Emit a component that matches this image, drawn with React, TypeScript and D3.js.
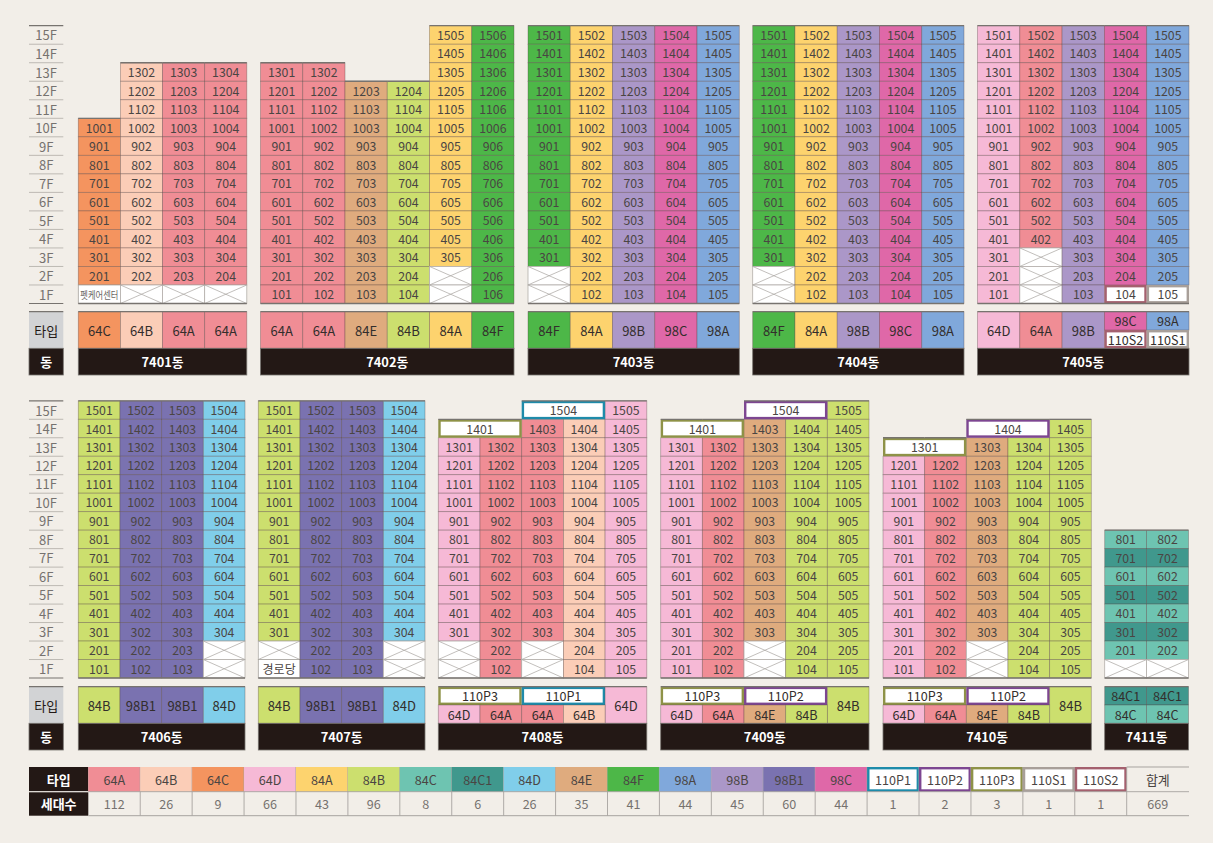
import React from "react";
import * as d3 from "d3";

// ---------- data ----------
const typeNames = ["64A","64B","64C","64D","84A","84B","84C","84C1","84D","84E","84F","98A","98B","98B1","98C","110P1","110P2","110P3","110S1","110S2"];
const typeColors = ["#F08D95","#FBCDB7","#F4945F","#F6B9D6","#FDD36E","#CCDF6E","#6EC4B1","#40988D","#80CEEA","#DFAB7E","#4DB748","#80A8DB","#AB97C8","#7A72B0","#DF68A8","#1E8BAA","#7D4691","#8E9247","#A89F99","#A4606E"];
const typeCounts = [112,26,9,66,43,96,8,6,26,35,41,44,45,60,44,1,2,3,1,1];
const totalLabel = "합계";
const totalCount = 669;
const floorLabels = ["15F","14F","13F","12F","11F","10F","9F","8F","7F","6F","5F","4F","3F","2F","1F"];
const typeHeader = "타입";
const dongHeader = "동";
const countHeader = "세대수";

type Span = [string, number, number];
const VOID = "X";

const dongNames = ["7401동","7402동","7403동","7404동","7405동","7406동","7407동","7408동","7409동","7410동","7411동"];

const floors7401: Span[][] = [
  [["64C",2,10],["펫케어센터",1,1]],
  [["64B",2,13],[VOID,1,1]],
  [["64A",2,13],[VOID,1,1]],
  [["64A",2,13],[VOID,1,1]],
];
const floors7402: Span[][] = [
  [["64A",1,13]],
  [["64A",1,13]],
  [["84E",1,12]],
  [["84B",1,12]],
  [["84A",3,15],[VOID,1,2]],
  [["84F",1,15]],
];
const floors7403: Span[][] = [
  [["84F",3,15],[VOID,1,2]],
  [["84A",1,15]],
  [["98B",1,15]],
  [["98C",1,15]],
  [["98A",1,15]],
];
const floors7404: Span[][] = [
  [["84F",3,15],[VOID,1,2]],
  [["84A",1,15]],
  [["98B",1,15]],
  [["98C",1,15]],
  [["98A",1,15]],
];
const floors7405: Span[][] = [
  [["64D",1,15]],
  [["64A",4,15],[VOID,1,3]],
  [["98B",1,15]],
  [["98C",2,15],["110S2",1,1]],
  [["98A",2,15],["110S1",1,1]],
];
const floors7406: Span[][] = [
  [["84B",1,15]],
  [["98B1",1,15]],
  [["98B1",1,15]],
  [["84D",3,15],[VOID,1,2]],
];
const floors7407: Span[][] = [
  [["84B",3,15],[VOID,2,2],["경로당",1,1]],
  [["98B1",1,15]],
  [["98B1",1,15]],
  [["84D",3,15],[VOID,1,2]],
];
const floors7408: Span[][] = [
  [["64D",3,13],[VOID,1,2]],
  [["64A",1,13]],
  [["64A",3,14],[VOID,1,2]],
  [["64B",1,14]],
  [["64D",1,15]],
];
const floors7409: Span[][] = [
  [["64D",1,13]],
  [["64A",1,13]],
  [["84E",3,14],[VOID,1,2]],
  [["84B",1,14]],
  [["84B",1,15]],
];
const floors7410: Span[][] = [
  [["64D",1,12]],
  [["64A",1,12]],
  [["84E",3,13],[VOID,1,2]],
  [["84B",1,13]],
  [["84B",1,14]],
];
const floors7411: Span[][] = [
  [["84C",8,8],["84C1",7,7],["84C",6,6],["84C1",5,5],["84C",4,4],["84C1",3,3],["84C",2,2],[VOID,1,1]],
  [["84C",8,8],["84C1",7,7],["84C",6,6],["84C1",5,5],["84C",4,4],["84C1",3,3],["84C",2,2],[VOID,1,1]],
];
const dongFloors = [floors7401,floors7402,floors7403,floors7404,floors7405,floors7406,floors7407,floors7408,floors7409,floors7410,floors7411];

// merged penthouse units: dong index, floor, first col, col span, label, type
const mergedUnits: [number, number, number, number, string, string][] = [
  [7,14,0,2,"1401","110P3"],
  [7,15,2,2,"1504","110P1"],
  [8,14,0,2,"1401","110P3"],
  [8,15,2,2,"1504","110P2"],
  [9,13,0,2,"1301","110P3"],
  [9,14,2,2,"1404","110P2"],
];

// type strip: type, first col, col span, level (0 whole, 1 upper, 2 lower)
const stripCells: [string, number, number, number][][] = [
  [["64C",0,1,0],["64B",1,1,0],["64A",2,1,0],["64A",3,1,0]],
  [["64A",0,1,0],["64A",1,1,0],["84E",2,1,0],["84B",3,1,0],["84A",4,1,0],["84F",5,1,0]],
  [["84F",0,1,0],["84A",1,1,0],["98B",2,1,0],["98C",3,1,0],["98A",4,1,0]],
  [["84F",0,1,0],["84A",1,1,0],["98B",2,1,0],["98C",3,1,0],["98A",4,1,0]],
  [["64D",0,1,0],["64A",1,1,0],["98B",2,1,0],["98C",3,1,1],["110S2",3,1,2],["98A",4,1,1],["110S1",4,1,2]],
  [["84B",0,1,0],["98B1",1,1,0],["98B1",2,1,0],["84D",3,1,0]],
  [["84B",0,1,0],["98B1",1,1,0],["98B1",2,1,0],["84D",3,1,0]],
  [["110P3",0,2,1],["110P1",2,2,1],["64D",4,1,0],["64D",0,1,2],["64A",1,1,2],["64A",2,1,2],["64B",3,1,2]],
  [["110P3",0,2,1],["110P2",2,2,1],["84B",4,1,0],["64D",0,1,2],["64A",1,1,2],["84E",2,1,2],["84B",3,1,2]],
  [["110P3",0,2,1],["110P2",2,2,1],["84B",4,1,0],["64D",0,1,2],["64A",1,1,2],["84E",2,1,2],["84B",3,1,2]],
  [["84C1",0,1,1],["84C1",1,1,1],["84C",0,1,2],["84C",1,1,2]],
];

// ---------- layout ----------
const W = 1213, H = 843;
const FONT = "'Noto Sans CJK KR','Noto Sans',sans-serif";
const INK = "#4A4543";
const GRID = "rgba(86,66,66,0.42)";
const EDGE = "#77736F";
const BLACK = "#231815";
const rowsY = [
  { top: 25.7, bottom: 303.5, strip: 311.7, mid: 348.3, end: 375 },
  { top: 400.8, bottom: 678, strip: 686.7, mid: 723.3, end: 750 },
];
const dongX: [number, number, number][] = [
  [78.3,246.8,0],[260.5,514,0],[528,739.3,0],[752.7,964,0],[977.5,1189,0],
  [78.3,245,1],[258.3,425,1],[438.3,646.8,1],[660.7,869,1],[883,1091.3,1],[1104.7,1188.5,1],
];
const LABEL_L = 29, LABEL_R = 63.3;

const colorOf = d3.scaleOrdinal<string, string>().domain(typeNames).range(typeColors);
const isPlain = (t: string) => t.startsWith("110");
const isKnown = (t: string) => typeNames.includes(t);

const Txt = ({ x, y, s, size = 12.3, fill = INK, weight = 400, fit }: any) => (
  <text x={x} y={y} fontSize={size} fill={fill} fontWeight={weight} textAnchor="middle" dominantBaseline="central" fontFamily={FONT}
    {...(fit ? { textLength: fit, lengthAdjust: "spacingAndGlyphs" } : {})}>{s}</text>
);

const Plain = ({ x, y, w, h, t }: any) => (
  <rect x={x + 1.2} y={y + 1.2} width={w - 2.4} height={h - 2.4} fill="#fff" stroke={colorOf(t)} strokeWidth={2.4} />
);

function Cross({ x, y, w, h }: any) {
  return (
    <g>
      <rect x={x} y={y} width={w} height={h} fill="#fff" stroke="#B3AFAB" strokeWidth={0.8} />
      <line x1={x} y1={y} x2={x + w} y2={y + h} stroke="#A7A39F" strokeWidth={0.7} />
      <line x1={x} y1={y + h} x2={x + w} y2={y} stroke="#A7A39F" strokeWidth={0.7} />
    </g>
  );
}

function FloorAxis({ row }: { row: number }) {
  const r = rowsY[row];
  const fy = d3.scaleBand<string>().domain(floorLabels).range([r.top, r.bottom]);
  const h = fy.bandwidth();
  return (
    <g>
      {floorLabels.map((f, i) => (
        <g key={f}>
          {i > 0 && <line x1={LABEL_L} x2={LABEL_R} y1={fy(f)!} y2={fy(f)!} stroke="#BDB9B3" strokeWidth={1} />}
          <Txt x={(LABEL_L + LABEL_R) / 2} y={fy(f)! + h / 2} s={f} size={13} fill="#76726F" />
        </g>
      ))}
      <line x1={LABEL_L} x2={LABEL_R} y1={r.top} y2={r.top} stroke={EDGE} strokeWidth={1.2} />
      <line x1={LABEL_L} x2={LABEL_R} y1={r.bottom} y2={r.bottom} stroke={EDGE} strokeWidth={1.2} />
      <rect x={LABEL_L} y={r.strip} width={LABEL_R - LABEL_L} height={r.mid - r.strip} fill="#D2D3D5" />
      <line x1={LABEL_L} x2={LABEL_R} y1={r.strip} y2={r.strip} stroke={EDGE} strokeWidth={1.2} />
      <Txt x={(LABEL_L + LABEL_R) / 2} y={(r.strip + r.mid) / 2} s={typeHeader} size={13} fill="#231815" weight={400} />
      <rect x={LABEL_L} y={r.mid} width={LABEL_R - LABEL_L} height={r.end - r.mid} fill={BLACK} stroke={EDGE} strokeWidth={0.8} />
      <Txt x={(LABEL_L + LABEL_R) / 2} y={(r.mid + r.end) / 2} s={dongHeader} size={13} fill="#fff" weight={700} />
    </g>
  );
}

function Dong({ index }: { index: number }) {
  const [x0, x1, row] = dongX[index];
  const r = rowsY[row];
  const cols = dongFloors[index];
  const fx = d3.scaleBand<number>().domain(d3.range(cols.length)).range([x0, x1]);
  const fy = d3.scaleBand<string>().domain(floorLabels).range([r.top, r.bottom]);
  const cw = fx.bandwidth();
  const ch = fy.bandwidth();
  const fl = (n: number) => `${n}F`;
  const merged = mergedUnits.filter((m) => m[0] === index);
  const stripMid = (r.strip + r.mid) / 2;

  return (
    <g>
      {/* floors */}
      {cols.map((spans, c) => {
        const cells: React.ReactNode[] = [];
        spans.forEach(([t, lo, hi]) => {
          for (let n = hi; n >= lo; n--) {
            const x = fx(c)!, y = fy(fl(n))!;
            const key = `${c}-${n}`;
            if (t === VOID) {
              cells.push(<Cross key={key} x={x} y={y} w={cw} h={ch} />);
            } else if (!isKnown(t)) {
              cells.push(
                <g key={key}>
                  <rect x={x} y={y} width={cw} height={ch} fill="#fff" stroke="#A7A39F" strokeWidth={0.8} />
                  {t.length > 3
                    ? <Txt x={x + cw / 2} y={y + ch / 2} s={t} size={10.5} fit={38} fill="#6A6663" />
                    : <Txt x={x + cw / 2} y={y + ch / 2} s={t} size={12} />}
                </g>
              );
            } else if (isPlain(t)) {
              cells.push(
                <g key={key}>
                  <Plain x={x} y={y} w={cw} h={ch} t={t} />
                  <Txt x={x + cw / 2} y={y + ch / 2} s={String(n * 100 + c + 1)} />
                </g>
              );
            } else {
              cells.push(
                <g key={key}>
                  <rect x={x} y={y} width={cw} height={ch} fill={colorOf(t)} stroke={GRID} strokeWidth={0.8} />
                  <Txt x={x + cw / 2} y={y + ch / 2} s={String(n * 100 + c + 1)} />
                </g>
              );
            }
          }
        });
        return <g key={c}>{cells}</g>;
      })}
      {/* merged penthouses */}
      {merged.map(([_, n, c, span, label, t]) => {
        const x = fx(c)!, y = fy(fl(n))!, w = cw * span;
        return (
          <g key={label + c}>
            <Plain x={x} y={y} w={w} h={ch} t={t} />
            <Txt x={x + w / 2} y={y + ch / 2} s={label} />
          </g>
        );
      })}
      {/* stepped top + base */}
      {cols.map((spans, c) => {
        const own = Math.max(...spans.map((s) => s[2]));
        const m = merged.filter((u) => c >= u[2] && c < u[2] + u[3]).map((u) => u[1]);
        const top = Math.max(own, ...m);
        const y = fy(fl(top))!;
        return <line key={c} x1={fx(c)!} x2={fx(c)! + cw} y1={y} y2={y} stroke={EDGE} strokeWidth={1.3} />;
      })}
      <line x1={x0} x2={x1} y1={r.bottom} y2={r.bottom} stroke={EDGE} strokeWidth={1.3} />

      {/* type strip */}
      {stripCells[index].map(([t, c, span, level], i) => {
        const x = fx(c)!, w = cw * span;
        const y = level === 2 ? stripMid : r.strip;
        const h = level === 0 ? r.mid - r.strip : stripMid - r.strip;
        return (
          <g key={i}>
            {isPlain(t) ? (
              <Plain x={x} y={y} w={w} h={h} t={t} />
            ) : (
              <rect x={x} y={y} width={w} height={h} fill={colorOf(t)} stroke={GRID} strokeWidth={0.8} />
            )}
            <Txt x={x + w / 2} y={y + h / 2} s={t} size={level === 0 ? 13 : 12.6} fill="#332E2C" />
          </g>
        );
      })}
      <line x1={x0} x2={x1} y1={r.strip} y2={r.strip} stroke={EDGE} strokeWidth={1.3} />
      <rect x={x0} y={r.mid} width={x1 - x0} height={r.end - r.mid} fill={BLACK} stroke={EDGE} strokeWidth={0.8} />
      <Txt x={(x0 + x1) / 2} y={(r.mid + r.end) / 2} s={dongNames[index]} size={12.8} fill="#fff" weight={700} />
    </g>
  );
}

function Legend() {
  const top = 767, mid = 791.7, bottom = 815.7;
  const headR = 88.3, totalL = 1126.7, right = 1189;
  const lx = d3.scaleBand<string>().domain(typeNames).range([headR, totalL]);
  const w = lx.bandwidth();
  return (
    <g>
      <rect x={LABEL_L} y={top} width={headR - LABEL_L} height={mid - top - 0.6} fill={BLACK} />
      <rect x={LABEL_L} y={mid + 0.6} width={headR - LABEL_L} height={bottom - mid - 0.6} fill={BLACK} />
      <Txt x={(LABEL_L + headR) / 2} y={(top + mid) / 2} s={typeHeader} size={13} fill="#fff" weight={700} />
      <Txt x={(LABEL_L + headR) / 2} y={(mid + bottom) / 2} s={countHeader} size={13} fill="#fff" weight={700} />
      {typeNames.map((t, i) => {
        const x = lx(t)!;
        return (
          <g key={t}>
            {isPlain(t) ? (
              <Plain x={x} y={top} w={w} h={mid - top} t={t} />
            ) : (
              <rect x={x} y={top} width={w} height={mid - top} fill={colorOf(t)} />
            )}
            <Txt x={x + w / 2} y={(top + mid) / 2} s={t} size={12.6} />
            <Txt x={x + w / 2} y={(mid + bottom) / 2} s={String(typeCounts[i])} size={12.6} fill="#76726F" />
            <line x1={x + w} x2={x + w} y1={top} y2={bottom} stroke="#A7A39F" strokeWidth={0.9} />
          </g>
        );
      })}
      <Txt x={(totalL + right) / 2} y={(top + mid) / 2} s={totalLabel} size={13} />
      <Txt x={(totalL + right) / 2} y={(mid + bottom) / 2} s={String(totalCount)} size={12.6} fill="#76726F" />
      <line x1={totalL} x2={right} y1={top} y2={top} stroke="#A7A39F" strokeWidth={1} />
      <line x1={headR} x2={right} y1={mid} y2={mid} stroke="#A7A39F" strokeWidth={0.9} />
      <line x1={headR} x2={right} y1={bottom} y2={bottom} stroke="#A7A39F" strokeWidth={1} />
    </g>
  );
}

export default function App() {
  return (
    <svg width={W} height={H} viewBox={`0 0 ${W} ${H}`} style={{ position: "absolute", left: 0, top: 0, background: "#F2EEE8", display: "block" }}>
      <rect width={W} height={H} fill="#F2EEE8" />
      <FloorAxis row={0} />
      <FloorAxis row={1} />
      {dongNames.map((_, i) => <Dong key={i} index={i} />)}
      <Legend />
    </svg>
  );
}
